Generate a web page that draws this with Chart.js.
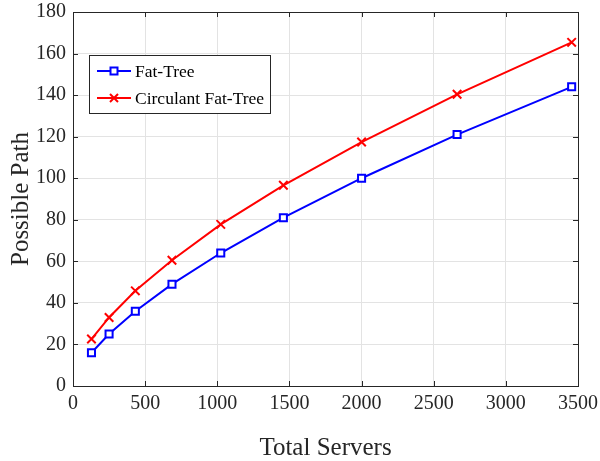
<!DOCTYPE html>
<html>
<head>
<meta charset="utf-8">
<script src="https://cdn.jsdelivr.net/npm/chart.js@4"></script>
<style>
  html, body { margin: 0; padding: 0; background: #fff; }
  #wrap { width: 600px; height: 461px; }
</style>
</head>
<body>
<div id="wrap"><canvas id="chart" width="600" height="461"></canvas></div>
<script>
// data
const servers = [128, 250, 432, 686, 1024, 1458, 2000, 2662, 3456];
const fatTree = [16, 25, 36, 49, 64, 81, 100, 121, 144];
const circulant = [22.6, 33, 45.8, 60.5, 77.8, 96.6, 117.4, 140.4, 165.4];
const xTicks = [0, 500, 1000, 1500, 2000, 2500, 3000, 3500];
const yTicks = [0, 20, 40, 60, 80, 100, 120, 140, 160, 180];

const FONT = "'Liberation Serif', 'DejaVu Serif', serif";
const AXIS = "#262626";

function toPoints(xs, ys) {
  return xs.map((x, i) => ({ x: x, y: ys[i] }));
}

// frame + inward ticks like matlab
const framePlugin = {
  id: "frame",
  afterDatasetsDraw(chart) {
    const { ctx, chartArea: a, scales } = chart;
    ctx.save();
    ctx.strokeStyle = AXIS;
    ctx.lineWidth = 1;
    ctx.strokeRect(a.left + 0.5, a.top + 0.5, a.right - a.left, a.bottom - a.top);
    ctx.beginPath();
    xTicks.forEach((v) => {
      const px = Math.round(scales.x.getPixelForValue(v)) + 0.5;
      ctx.moveTo(px, a.bottom); ctx.lineTo(px, a.bottom - 5);
      ctx.moveTo(px, a.top); ctx.lineTo(px, a.top + 5);
    });
    yTicks.forEach((v) => {
      const py = Math.round(scales.y.getPixelForValue(v)) + 0.5;
      ctx.moveTo(a.left, py); ctx.lineTo(a.left + 5, py);
      ctx.moveTo(a.right, py); ctx.lineTo(a.right - 5, py);
    });
    ctx.stroke();
    ctx.restore();
  },
};

// legend box inside the plot
const legendPlugin = {
  id: "boxLegend",
  afterDraw(chart) {
    const ctx = chart.ctx;
    const x0 = 89, y0 = 55, w = 181, h = 58;
    ctx.save();
    ctx.fillStyle = "#fff";
    ctx.fillRect(x0, y0, w, h);
    ctx.strokeStyle = AXIS;
    ctx.lineWidth = 1;
    ctx.strokeRect(x0 + 0.5, y0 + 0.5, w, h);
    chart.data.datasets.forEach((ds, i) => {
      const cy = y0 + 16 + i * 27;
      ctx.strokeStyle = ds.borderColor;
      ctx.lineWidth = 2;
      ctx.beginPath();
      ctx.moveTo(x0 + 8, cy);
      ctx.lineTo(x0 + 42, cy);
      ctx.stroke();
      const mx = x0 + 25;
      ctx.beginPath();
      if (ds.pointStyle === "rect") {
        ctx.fillStyle = "#fff";
        ctx.fillRect(mx - 3.5, cy - 3.5, 7, 7);
        ctx.strokeRect(mx - 3.5, cy - 3.5, 7, 7);
      } else {
        ctx.moveTo(mx - 4, cy - 4); ctx.lineTo(mx + 4, cy + 4);
        ctx.moveTo(mx + 4, cy - 4); ctx.lineTo(mx - 4, cy + 4);
        ctx.stroke();
      }
      ctx.fillStyle = "#000";
      ctx.font = "17.5px " + FONT;
      ctx.textBaseline = "middle";
      ctx.fillText(ds.label, x0 + 46, cy + 1);
    });
    ctx.restore();
  },
};

new Chart(document.getElementById("chart"), {
  type: "line",
  data: {
    datasets: [
      {
        label: "Fat-Tree",
        data: toPoints(servers, fatTree),
        borderColor: "#0000ff",
        backgroundColor: "#ffffff",
        borderWidth: 2,
        pointStyle: "rect",
        pointRadius: 5,
        pointBorderWidth: 2,
        pointBackgroundColor: "#ffffff",
        pointBorderColor: "#0000ff",
        tension: 0,
      },
      {
        label: "Circulant Fat-Tree",
        data: toPoints(servers, circulant),
        borderColor: "#ff0000",
        backgroundColor: "#ff0000",
        borderWidth: 2,
        pointStyle: "crossRot",
        pointRadius: 6,
        pointBorderWidth: 2,
        pointBorderColor: "#ff0000",
        tension: 0,
      },
    ],
  },
  options: {
    responsive: false,
    animation: false,
    layout: { padding: { top: 12, right: 22, left: 0, bottom: 0 } },
    plugins: {
      legend: { display: false },
      tooltip: { enabled: false },
    },
    scales: {
      x: {
        type: "linear",
        min: 0,
        max: 3500,
        afterBuildTicks: (s) => { s.ticks = xTicks.map((v) => ({ value: v })); },
        afterFit: (s) => {
          s.height = 75;
          s.paddingLeft = 0;
          s.paddingRight = 0;
        },
        grid: { color: "#e3e3e3", drawTicks: false },
        border: { display: false },
        ticks: {
          color: AXIS,
          font: { family: FONT, size: 20 },
          padding: 6,
          maxRotation: 0,
          callback: (v) => String(v),
        },
        title: {
          display: true,
          text: "Total Servers",
          color: AXIS,
          font: { family: FONT, size: 25 },
          padding: { top: 4, bottom: -2 },
        },
      },
      y: {
        type: "linear",
        min: 0,
        max: 180,
        afterBuildTicks: (s) => { s.ticks = yTicks.map((v) => ({ value: v })); },
        afterFit: (s) => {
          s.width = 73;
          s.paddingTop = 0;
          s.paddingBottom = 0;
        },
        grid: { color: "#e3e3e3", drawTicks: false },
        border: { display: false },
        ticks: {
          color: AXIS,
          font: { family: FONT, size: 20 },
          padding: 7,
          callback: (v) => String(v),
        },
        title: {
          display: true,
          text: "Possible Path",
          color: AXIS,
          font: { family: FONT, size: 25 },
          padding: { top: 6, bottom: 4 },
        },
      },
    },
  },
  plugins: [framePlugin, legendPlugin],
});
</script>
</body>
</html>
